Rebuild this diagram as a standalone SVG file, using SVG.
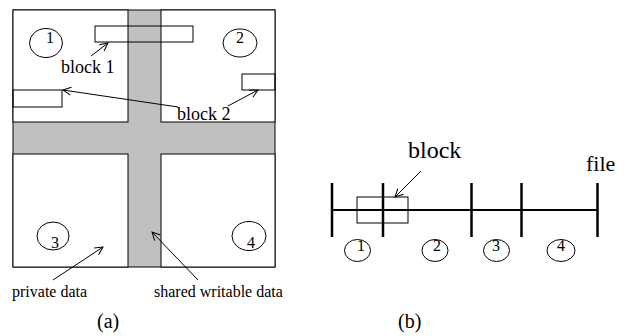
<svg xmlns="http://www.w3.org/2000/svg" width="628" height="336" viewBox="0 0 628 336" font-family="'Liberation Serif', 'Times New Roman', serif">
<defs>
<marker id="ah" markerWidth="10" markerHeight="10" refX="9" refY="5" orient="auto" markerUnits="userSpaceOnUse">
<path d="M1,1 L9,5 L1,9" fill="none" stroke="#000" stroke-width="1"/>
</marker>
</defs>
<style>
.q{fill:#fff;stroke:#000;stroke-width:1}
.bx{fill:none;stroke:#000;stroke-width:1}
.c{fill:none;stroke:#000;stroke-width:1}
.ar{stroke:#000;stroke-width:1;fill:none;marker-end:url(#ah)}
.t16{font-size:16px}
.t18{font-size:18px}
.tk{stroke:#000;stroke-width:2.5}
</style>
<g id="panel-a">
<rect x="13" y="10" width="262" height="257" fill="#c0c0c0" stroke="#000" stroke-width="1"/>
<rect class="q" x="13" y="10" width="115" height="112"/>
<rect class="q" x="161" y="10" width="114" height="112"/>
<rect class="q" x="13" y="154" width="115" height="113"/>
<rect class="q" x="161" y="154" width="114" height="113"/>
</g>
<g id="block1">
<rect class="bx" x="95" y="26" width="98" height="16"/>
<text class="t18" x="61" y="73">block 1</text>
</g>
<g id="block2">
<rect class="bx" x="13" y="90" width="49" height="17"/>
<rect class="bx" x="242" y="74" width="33" height="16"/>
<text class="t18" x="177" y="120">block 2</text>
</g>
<g id="p1"><ellipse class="c" cx="46" cy="43" rx="16.5" ry="14.5"/><text class="t16" x="46" y="43">1</text></g>
<g id="p2"><ellipse class="c" cx="240" cy="43" rx="17" ry="14"/><text class="t16" x="236" y="43">2</text></g>
<g id="p3"><ellipse class="c" cx="53" cy="236" rx="16" ry="14"/><text class="t16" x="51" y="248">3</text></g>
<g id="p4"><ellipse class="c" cx="249" cy="236" rx="17" ry="14.5"/><text class="t16" x="247" y="248">4</text></g>
<g id="labels-a">
<text class="t16" x="12" y="297">private data</text>
<text class="t16" x="154" y="297">shared writable data</text>
<text x="97" y="328" font-size="20">(a)</text>
</g>
<g id="panel-b">
<line x1="332" y1="210" x2="598" y2="210" stroke="#000" stroke-width="2"/>
<line class="tk" x1="332" y1="183" x2="332" y2="237"/>
<line class="tk" x1="383" y1="183" x2="383" y2="237"/>
<line class="tk" x1="471.5" y1="183" x2="471.5" y2="237"/>
<line class="tk" x1="521.5" y1="183" x2="521.5" y2="237"/>
<line class="tk" x1="597.5" y1="183" x2="597.5" y2="237"/>
<rect class="bx" x="357" y="197" width="51" height="26"/>
<text x="408" y="158" font-size="24">block</text>
<text x="586" y="171" font-size="22">file</text>
<text x="398" y="328" font-size="20">(b)</text>
</g>
<g id="b1"><ellipse class="c" cx="357.5" cy="250.5" rx="13" ry="11"/><text class="t16" x="357" y="251">1</text></g>
<g id="b2"><ellipse class="c" cx="435" cy="250.5" rx="13" ry="11"/><text class="t16" x="433" y="251">2</text></g>
<g id="b3"><ellipse class="c" cx="496.5" cy="250.5" rx="13" ry="11"/><text class="t16" x="492" y="251">3</text></g>
<g id="b4"><ellipse class="c" cx="561" cy="250.5" rx="14" ry="11"/><text class="t16" x="557" y="251">4</text></g>
<g id="connectors">
<line class="ar" x1="91" y1="56" x2="108" y2="43"/>
<line class="ar" x1="178" y1="107" x2="63" y2="90"/>
<line class="ar" x1="228" y1="106" x2="258" y2="90"/>
<line class="ar" x1="53" y1="280" x2="103" y2="247"/>
<line class="ar" x1="198" y1="280" x2="152" y2="232"/>
<line class="ar" x1="421" y1="171" x2="395" y2="197"/>
</g>
</svg>
